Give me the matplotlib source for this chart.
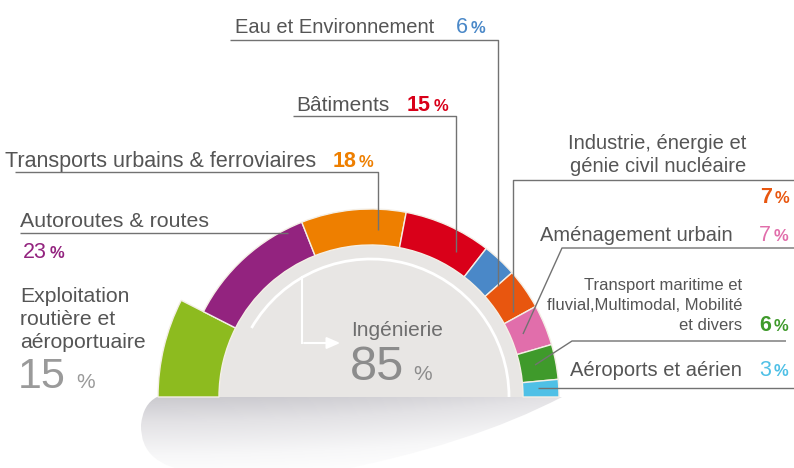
import numpy as np
import matplotlib.pyplot as plt
from matplotlib.patches import Wedge, Arc, PathPatch
from matplotlib.path import Path
from matplotlib.colors import LinearSegmentedColormap

plt.rcParams['font.family'] = ['Liberation Sans', 'DejaVu Sans']

# data: shares of activity (%), from left to right along the half ring
segments = ["Exploitation routière et aéroportuaire", "Autoroutes & routes",
            "Transports urbains & ferroviaires", "Bâtiments", "Eau et Environnement",
            "Industrie, énergie et génie civil nucléaire", "Aménagement urbain",
            "Transport maritime et fluvial,Multimodal, Mobilité et divers",
            "Aéroports et aérien"]
shares = [15, 23, 18, 15, 6, 7, 7, 6, 3]
colors = ["#8dbb1f", "#93237f", "#ee7f00", "#d90019", "#4a88c8",
          "#e8560f", "#e16eab", "#3f9a2b", "#4fc0e6"]
ingenierie = sum(shares[1:])

W, H = 794, 468
TXT = "#555555"
LINE = "#727272"

fig = plt.figure(figsize=(W / 100, H / 100), dpi=100)
ax = fig.add_axes([0, 0, 1, 1])

cx, cy = 371, 397
r_in = 152

# shadow under the half disc: soft grey fading downwards and to the right
cmap = LinearSegmentedColormap.from_list("sh", [(0, "#cbcacf"), (0.3, "#e3e2e5"),
                                                (0.7, "#f7f7f8"), (1, "#ffffff")])
gy, gx = np.mgrid[0:1:200j, 0:1:300j]
grad = np.clip(0.9 * gy + 0.3 * gx ** 2, 0, 1)
im = ax.imshow(grad, cmap=cmap, vmin=0, vmax=1, extent=[138, 565, 472, cy],
               origin="upper", aspect="auto", zorder=0)
verts = [(157, cy), (562, cy), (470, 445), (330, 472), (195, 472),
         (140, 466), (141, 425), (143, 404), (157, cy), (157, cy)]
codes = [Path.MOVETO, Path.LINETO, Path.CURVE3, Path.CURVE3, Path.LINETO,
         Path.CURVE3, Path.CURVE3, Path.CURVE3, Path.CURVE3, Path.CLOSEPOLY]
shadow = PathPatch(Path(verts, codes), facecolor="none", edgecolor="none")
ax.add_patch(shadow)
im.set_clip_path(shadow)

# inner grey half disc
ax.add_patch(Wedge((cx, cy), r_in, 180, 360, facecolor="#e8e6e4", edgecolor="none", zorder=1))

# ring segments (y axis is inverted, so display angle a -> data angle -a)
total = sum(shares)
a = 180.0
for i, (s, c) in enumerate(zip(shares, colors)):
    span = 180.0 * s / total
    r_out = 213 if i == 0 else 188
    ax.add_patch(Wedge((cx, cy), r_out, -a, -(a - span), width=r_out - r_in,
                       facecolor=c, edgecolor="#f4efe6", linewidth=1, zorder=2))
    a -= span

# white arc and arrow inside the disc
ax.add_patch(Arc((cx, cy), 276, 276, theta1=-150, theta2=0, color="white", lw=2, zorder=3))
x0 = cx + 138 * np.cos(np.radians(120))
y0 = cy - 138 * np.sin(np.radians(120))
ax.plot([x0, x0], [y0, 343], color="white", lw=1.5, zorder=3)
ax.annotate("", xy=(343, 343), xytext=(x0 - 0.7, 343),
            arrowprops=dict(arrowstyle="-|>,head_length=0.8,head_width=0.35",
                            color="white", lw=1.5), zorder=3)

ax.text(397, 336, "Ingénierie", fontsize=15, color="#6e6e6e", ha="center", zorder=4)
ax.text(350, 380, str(ingenierie), fontsize=35, color="#8c8c8c", ha="left", zorder=4)
ax.text(413, 380, "%", fontsize=15, color="#8c8c8c", ha="left", zorder=4)


def line(xs, ys):
    ax.plot(xs, ys, color=LINE, lw=1, zorder=5, solid_capstyle="butt")


def num(x, y, value, color, bold=True, size=15.5, psize=12):
    ax.text(x, y, str(value), fontsize=size, color=color, ha="right",
            fontweight="bold" if bold else "normal", zorder=6)
    ax.text(x + 3, y, "%", fontsize=psize, color=color, ha="left",
            fontweight="bold", zorder=6)


# Eau et Environnement
ax.text(434, 33, segments[4], fontsize=14.5, color=TXT, ha="right")
num(468, 33, shares[4], colors[4], bold=False)
line([230, 498, 498], [40, 40, 286])

# Bâtiments
ax.text(389, 111, segments[3], fontsize=15, color=TXT, ha="right")
num(431, 111, shares[3], colors[3])
line([293, 456, 456], [116, 116, 252])

# Transports urbains & ferroviaires
ax.text(316, 167, segments[2], fontsize=15.5, color=TXT, ha="right")
num(356, 167, shares[2], colors[2])
line([15, 378, 378], [172, 172, 230])

# Autoroutes & routes
ax.text(20, 227, segments[1], fontsize=15.4, color=TXT, ha="left")
line([20, 288], [233, 233])
num(47, 258, shares[1], colors[1], bold=False)

# Exploitation routière et aéroportuaire
for k, t in enumerate(["Exploitation", "routière et", "aéroportuaire"]):
    ax.text(20, 302 + 23 * k, t, fontsize=15.2, color=TXT, ha="left")
ax.text(18, 388, str(shares[0]), fontsize=31, color="#9a9a9a", ha="left")
ax.text(76, 388, "%", fontsize=15, color="#9a9a9a", ha="left")

# Industrie, énergie et génie civil nucléaire
ax.text(746, 149, "Industrie, énergie et", fontsize=14.5, color=TXT, ha="right")
ax.text(746, 172, "génie civil nucléaire", fontsize=14.5, color=TXT, ha="right")
line([794, 513, 513], [180, 180, 312])
num(772, 203, shares[5], colors[5])

# Aménagement urbain
ax.text(733, 241, segments[6], fontsize=14.5, color=TXT, ha="right")
num(771, 241, shares[6], colors[6], bold=False)
line([794, 562, 523], [248, 248, 334])

# Transport maritime ...
for k, t in enumerate(["Transport maritime et", "fluvial,Multimodal, Mobilité", "et divers"]):
    ax.text(742, 290 + 20 * k, t, fontsize=12, color=TXT, ha="right")
num(771, 331, shares[7], colors[7])
line([786, 572, 535], [341, 341, 365])

# Aéroports et aérien
ax.text(742, 376, segments[8], fontsize=14.5, color=TXT, ha="right")
num(771, 376, shares[8], colors[8], bold=False)
line([538, 794], [388, 388])

ax.set_xlim(0, W)
ax.set_ylim(H, 0)
ax.axis("off")
fig.savefig("out.png", dpi=100)
